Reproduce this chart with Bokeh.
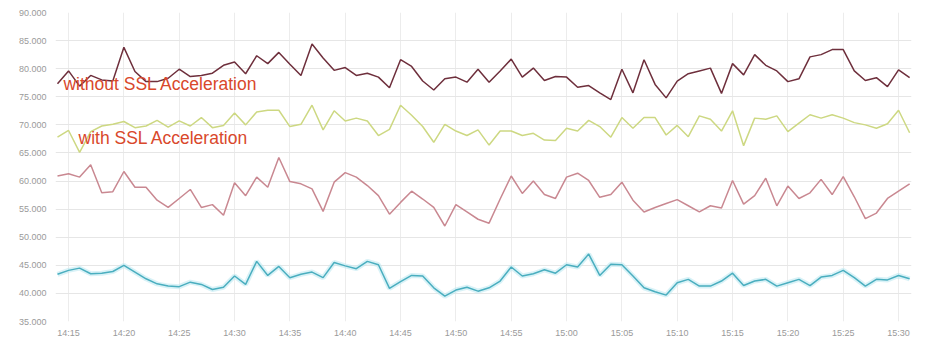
from bokeh.plotting import figure
from bokeh.models import Range1d, FixedTicker, ColumnDataSource, Label
from bokeh.embed import file_html
from bokeh.resources import INLINE

# minutes after 14:00 (14:14 ... 15:31)
minutes = list(range(14, 92))

without_ssl = [77.3, 79.6, 76.9, 78.8, 78.0, 77.8, 83.8, 79.5, 77.7, 77.7,
               78.3, 79.9, 78.6, 78.8, 79.2, 80.6, 81.2, 79.1, 82.3, 80.9,
               82.9, 80.8, 78.8, 84.4, 81.9, 79.7, 80.2, 78.8, 79.2, 78.5,
               76.6, 81.6, 80.4, 77.8, 76.2, 78.2, 78.5, 77.6, 79.9, 77.6,
               79.6, 81.7, 78.5, 80.1, 77.9, 78.6, 78.5, 76.7, 77.0, 75.7,
               74.5, 79.9, 75.7, 81.6, 77.2, 74.8, 77.8, 79.1, 79.6, 80.1,
               75.6, 80.9, 78.9, 82.5, 80.6, 79.6, 77.7, 78.2, 82.1, 82.5,
               83.4, 83.4, 79.6, 77.9, 78.4, 76.8, 79.8, 78.4]

with_ssl = [67.8, 69.0, 65.1, 68.8, 69.8, 70.1, 70.6, 69.5, 69.8, 70.8,
            69.6, 70.7, 69.8, 71.3, 69.5, 69.9, 72.1, 70.0, 72.3, 72.6,
            72.6, 69.7, 70.1, 73.5, 69.1, 72.5, 70.7, 71.2, 70.7, 68.1,
            69.2, 73.5, 71.7, 69.7, 66.9, 70.1, 68.9, 68.1, 69.1, 66.4,
            68.9, 68.9, 68.1, 68.5, 67.3, 67.2, 69.4, 68.9, 70.8, 69.7,
            67.8, 71.3, 69.4, 71.3, 71.3, 68.2, 69.9, 67.9, 71.6, 71.0,
            68.9, 72.5, 66.3, 71.2, 71.0, 71.6, 68.8, 70.3, 71.8, 71.2,
            71.8, 71.2, 70.4, 70.0, 69.4, 70.2, 72.6, 68.6]

series_pink = [60.9, 61.3, 60.7, 62.9, 57.9, 58.1, 61.7, 58.9, 58.9, 56.6,
               55.3, 56.9, 58.5, 55.3, 55.8, 53.9, 59.7, 57.4, 60.7, 58.9,
               64.2, 59.9, 59.5, 58.6, 54.6, 59.8, 61.5, 60.7, 59.2, 57.4,
               54.1, 56.2, 58.2, 56.8, 55.3, 52.0, 55.8, 54.5, 53.2, 52.5,
               56.8, 60.9, 57.8, 60.0, 57.6, 56.9, 60.7, 61.4, 60.1, 57.1,
               57.6, 59.8, 56.6, 54.5, 55.3, 56.0, 56.7, 55.6, 54.5, 55.6,
               55.2, 60.1, 55.9, 57.4, 60.5, 55.6, 59.1, 56.9, 57.9, 60.3,
               57.6, 60.8, 57.2, 53.3, 54.3, 56.9, 58.2, 59.5]

series_cyan = [43.4, 44.1, 44.5, 43.5, 43.6, 43.9, 45.0, 43.8, 42.6, 41.7,
               41.3, 41.2, 42.0, 41.6, 40.7, 41.1, 43.1, 41.6, 45.7, 43.2,
               44.8, 42.8, 43.4, 43.8, 42.8, 45.5, 44.9, 44.4, 45.7, 45.1,
               40.9, 42.1, 43.2, 43.1, 41.0, 39.5, 40.6, 41.1, 40.4, 41.0,
               42.2, 44.7, 43.1, 43.5, 44.2, 43.6, 45.1, 44.7, 47.0, 43.2,
               45.2, 45.1, 43.1, 41.0, 40.3, 39.7, 41.9, 42.5, 41.3, 41.3,
               42.2, 43.6, 41.4, 42.2, 42.5, 41.3, 41.9, 42.5, 41.4, 42.9,
               43.2, 44.1, 42.8, 41.3, 42.5, 42.4, 43.2, 42.6]

x_ticks = [15, 20, 25, 30, 35, 40, 45, 50, 55, 60, 65, 70, 75, 80, 85, 90]
x_tick_labels = ["14:15", "14:20", "14:25", "14:30", "14:35", "14:40", "14:45",
                 "14:50", "14:55", "15:00", "15:05", "15:10", "15:15", "15:20",
                 "15:25", "15:30"]
y_ticks = [35, 40, 45, 50, 55, 60, 65, 70, 75, 80, 85, 90]
y_tick_labels = ["35.000", "40.000", "45.000", "50.000", "55.000", "60.000",
                 "65.000", "70.000", "75.000", "80.000", "85.000", "90.000"]

label_without = "without SSL Acceleration"
label_with = "with SSL Acceleration"

src = ColumnDataSource(dict(t=minutes, a=without_ssl, b=with_ssl,
                            c=series_pink, d=series_cyan))

p = figure(width=929, height=343, output_backend="svg", toolbar_location=None,
           x_range=Range1d(13.82, 91.17), y_range=Range1d(35, 90),
           min_border_left=55, min_border_right=18, min_border_top=12,
           min_border_bottom=22)
p.outline_line_color = None
p.background_fill_color = "white"
p.border_fill_color = "white"

p.xaxis.ticker = FixedTicker(ticks=x_ticks)
p.xaxis.major_label_overrides = {t: l for t, l in zip(x_ticks, x_tick_labels)}
p.yaxis.ticker = FixedTicker(ticks=y_ticks)
p.yaxis.major_label_overrides = {t: l for t, l in zip(y_ticks, y_tick_labels)}

for ax in (p.xaxis[0], p.yaxis[0]):
    ax.axis_line_color = None
    ax.major_tick_line_color = None
    ax.minor_tick_line_color = None
    ax.major_label_text_color = "#9a9a9a"
    ax.major_label_text_font = "Liberation Sans"
    ax.major_label_text_font_size = "9px"
p.yaxis.major_label_standoff = 3
p.xaxis.major_label_standoff = 0

p.xgrid.grid_line_color = "#ececec"
p.ygrid.grid_line_color = "#e6e6e6"
p.xgrid.grid_line_width = 1
p.ygrid.grid_line_width = 1

# glow for the cyan line
p.line("t", "d", source=src, line_color="#bfeaf2", line_width=5, line_alpha=0.6)
p.line("t", "d", source=src, line_color="#4aaebf", line_width=1.5)
p.line("t", "c", source=src, line_color="#c98891", line_width=1.5)
p.line("t", "b", source=src, line_color="#cdd882", line_width=1.5)
p.line("t", "a", source=src, line_color="#6e2f3c", line_width=1.5)

p.add_layout(Label(x=14.54, y=77.2, text=label_without, text_color="#d9482b",
                   text_font="Liberation Sans", text_font_size="17.5px",
                   text_baseline="alphabetic"))
p.add_layout(Label(x=15.9, y=67.65, text=label_with, text_color="#d9482b",
                   text_font="Liberation Sans", text_font_size="17.5px",
                   text_baseline="alphabetic"))

open("out.html", "w").write(file_html(p, INLINE))
